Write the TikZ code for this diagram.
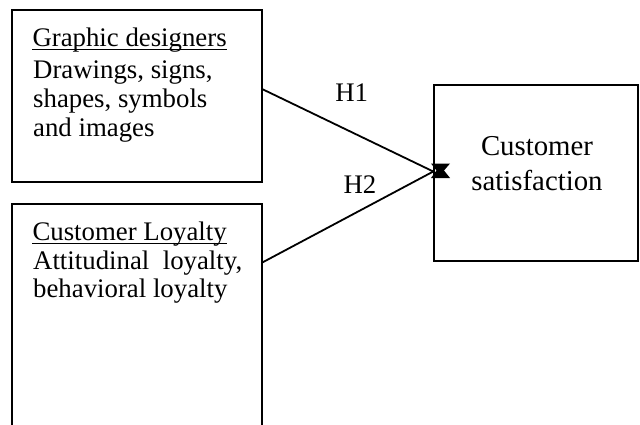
\documentclass[tikz,border=0pt]{standalone}
\usepackage{fontspec}
\setmainfont{Liberation Serif}
\begin{document}
\begin{tikzpicture}[x=1pt,y=-1pt,
  box/.style={draw,line width=1.4pt,rectangle,inner sep=0pt},
  txt/.style={inner sep=0pt,font=\fontsize{26.8}{30}\selectfont},
  bigtxt/.style={inner sep=0pt,font=\fontsize{28.8}{33}\selectfont},
  conn/.style={line width=1.8pt},
  uline/.style={line width=1.2pt}]
\useasboundingbox (0,0) rectangle (640,424);
% boxes
\node[box,minimum width=250pt,minimum height=172pt] (g) at (137,96) {};
\node[box,minimum width=250pt,minimum height=240pt] (l) at (137,324) {};
\node[box,minimum width=204pt,minimum height=176pt] (s) at (536,173) {};
% texts box 1
\node[txt,anchor=base west] (g1) at (32.3,46.7) {Graphic designers};
\draw[uline] ([yshift=-2.6pt]g1.base west) -- ([yshift=-2.6pt]g1.base east);
\node[txt,anchor=base west] (g2) at (33,78) {Drawings, signs,};
\node[txt,anchor=base west] (g3) at (33,107) {shapes, symbols};
\node[txt,anchor=base west] (g4) at (33,136.7) {and images};
% texts box 2
\node[txt,anchor=base west] (l1) at (32.3,240.7) {Customer Loyalty};
\draw[uline] ([yshift=-2.6pt]l1.base west) -- ([yshift=-2.6pt]l1.base east);
\node[txt,anchor=base west] (l2) at (33,269) {\makebox[209pt][s]{Attitudinal loyalty,}};
\node[txt,anchor=base west] (l3) at (33,297) {behavioral loyalty};
% text box 3
\node[bigtxt,anchor=base] (s1) at (537,155.7) {Customer};
\node[bigtxt,anchor=base] (s2) at (537,190) {satisfaction};
% labels
\node[txt,anchor=base] (h1) at (351.7,101) {H1};
\node[txt,anchor=base] (h2) at (360,193) {H2};
% connectors
\coordinate (tip) at ([yshift=1.5pt]s.west);
\draw[conn] ([yshift=-80pt]g.north east) -- (tip);
\draw[conn] ([yshift=-59pt]l.north east) -- (tip);
\fill (431,163.5) -- (450,163.5) -- (444,170.5) -- (450,178) -- (431,178) -- (436.5,170.5) -- cycle;
\end{tikzpicture}
\end{document}
